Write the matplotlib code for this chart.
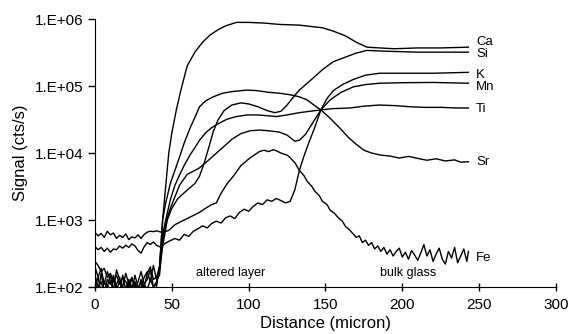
import matplotlib
matplotlib.use("Agg")
import matplotlib.pyplot as plt
import numpy as np

plt.rcParams['font.family'] = ['Liberation Sans', 'DejaVu Sans']

# pre-surface region (noisy background), x = 0..40 step 2
x_pre = list(range(0, 42, 2))

ca_x = x_pre + [42, 44, 46, 48, 50, 53, 56, 60, 65, 70, 75, 80, 85, 92, 100, 110, 120, 133, 148, 155, 163, 170,
                177, 185, 195, 210, 225, 243]
ca_y = [1.2e2, 0.8e2, 1.6e2, 0.9e2, 1.1e2, 0.7e2, 1.4e2, 1.0e2, 0.8e2, 1.5e2, 0.9e2, 1.2e2, 0.7e2, 1.1e2,
        0.9e2, 1.3e2, 0.8e2, 1.0e2, 0.9e2, 0.8e2, 1.0e2,
        2.0e2, 1.0e3, 3.2e3, 1.0e4, 2.0e4, 4.5e4, 8.9e4, 2.0e5, 3.2e5, 4.5e5, 5.8e5, 6.9e5, 7.9e5, 8.9e5, 8.9e5,
        8.7e5, 8.3e5, 8.1e5, 7.4e5, 6.6e5, 5.6e5, 4.5e5, 3.8e5, 3.7e5, 3.6e5, 3.7e5, 3.7e5, 3.8e5]

si_x = x_pre + [42, 44, 47, 50, 54, 60, 65, 68, 71, 74, 77, 80, 84, 89, 95, 100, 106, 112, 117, 121, 125, 129,
                133, 140, 148, 155, 163, 170, 177, 190, 210, 230, 243]
si_y = [2.0e2, 1.4e2, 1.9e2, 1.1e2, 1.7e2, 1.2e2, 0.9e2, 1.8e2, 1.3e2, 1.0e2, 1.6e2, 1.1e2, 1.4e2, 0.9e2,
        1.2e2, 1.7e2, 1.1e2, 0.9e2, 1.3e2, 1.0e2, 1.2e2,
        1.8e2, 4.0e2, 1.0e3, 1.5e3, 2.1e3, 2.8e3, 3.5e3, 4.5e3, 7.0e3, 1.2e4, 2.1e4, 3.1e4, 4.3e4, 5.2e4, 5.6e4,
        5.4e4, 4.9e4, 4.3e4, 4.0e4, 4.2e4, 5.2e4, 6.8e4, 8.7e4, 1.2e5, 1.75e5, 2.3e5, 2.7e5, 3.1e5, 3.4e5,
        3.3e5, 3.2e5, 3.2e5, 3.2e5]

k_x = x_pre + [43, 45, 48, 52, 55, 58, 61, 64, 67, 70, 73, 76, 79, 82, 85, 88, 91, 94, 97, 100, 103, 106, 109,
               112, 115, 118, 121, 124, 127, 130, 133, 136, 139, 143, 147, 151, 155, 161, 168, 176, 185, 200,
               220, 243]
k_y = [4.0e2, 3.6e2, 3.9e2, 3.4e2, 3.8e2, 3.3e2, 3.7e2, 3.6e2, 4.1e2, 3.8e2, 4.2e2, 3.9e2, 4.4e2, 4.1e2,
       3.5e2, 3.2e2, 4.0e2, 4.6e2, 4.3e2, 4.7e2, 4.2e2,
       3.9e2, 4.4e2, 4.8e2, 5.3e2, 5.0e2, 6.1e2, 5.7e2, 6.8e2, 7.4e2, 8.2e2, 7.6e2, 8.9e2, 9.6e2, 9.0e2,
       1.08e3, 1.15e3, 1.05e3, 1.3e3, 1.45e3, 1.35e3, 1.6e3, 1.8e3, 1.7e3, 2.0e3, 1.9e3, 2.1e3, 1.95e3,
       1.8e3, 1.9e3, 2.8e3, 5.5e3, 9.0e3, 1.4e4, 2.4e4, 4.4e4, 6.5e4, 8.5e4, 1.05e5, 1.25e5,
       1.45e5, 1.55e5, 1.55e5, 1.55e5, 1.6e5]

mn_x = x_pre + [42, 44, 47, 50, 55, 60, 65, 68, 73, 78, 83, 89, 95, 101, 107, 113, 120, 125, 130, 133, 137,
                142, 147, 153, 160, 168, 176, 185, 200, 220, 243]
mn_y = [1.5e2, 1.0e2, 1.2e2, 0.8e2, 1.3e2, 1.1e2, 1.5e2, 0.9e2, 1.2e2, 1.0e2, 0.8e2, 1.3e2, 1.0e2, 1.2e2,
        0.8e2, 1.0e2, 1.4e2, 1.7e2, 1.2e2, 2.1e2, 1.3e2,
        1.5e2, 5.0e2, 1.1e3, 1.7e3, 3.3e3, 4.8e3, 5.5e3, 6.0e3, 7.5e3, 9.5e3, 1.2e4, 1.6e4, 1.95e4, 2.15e4,
        2.2e4, 2.15e4, 2.05e4, 1.85e4, 1.5e4, 1.55e4, 1.9e4, 2.9e4, 4.4e4, 6.2e4, 8.0e4, 9.7e4, 1.05e5,
        1.1e5, 1.12e5, 1.13e5, 1.1e5]

ti_x = x_pre + [42, 44, 46, 49, 52, 55, 58, 62, 65, 68, 72, 76, 81, 86, 92, 99, 106, 112, 118, 125, 133, 140,
                147, 155, 166, 175, 185, 195, 205, 215, 225, 235, 243]
ti_y = [1.0e2, 1.4e2, 0.8e2, 1.2e2, 1.0e2, 1.5e2, 0.9e2, 1.1e2, 1.4e2, 0.8e2, 1.0e2, 1.2e2, 0.9e2, 1.5e2,
        1.0e2, 0.8e2, 1.1e2, 1.3e2, 1.8e2, 1.0e2, 1.1e2,
        2.0e2, 6.0e2, 1.0e3, 2.0e3, 3.3e3, 4.7e3, 6.5e3, 9.5e3, 1.2e4, 1.55e4, 2.0e4, 2.4e4, 2.8e4, 3.2e4,
        3.5e4, 3.7e4, 3.7e4, 3.6e4, 3.5e4, 3.7e4, 4.0e4, 4.2e4, 4.4e4, 4.6e4, 4.7e4, 5.0e4, 5.2e4, 5.1e4,
        4.9e4, 4.8e4, 4.8e4, 4.7e4, 4.7e4]

sr_x = x_pre + [42, 44, 46, 49, 52, 55, 58, 62, 65, 68, 72, 77, 83, 90, 99, 106, 112, 120, 127, 133, 138, 143,
                147, 153, 159, 165, 170, 175, 180, 186, 192, 198, 204, 210, 216, 222, 228, 234, 238, 243]
sr_y = [2.4e2, 2.1e2, 1.7e2, 1.9e2, 1.4e2, 1.6e2, 1.2e2, 1.5e2, 1.1e2, 1.4e2, 1.2e2, 1.0e2, 1.3e2, 1.1e2,
        0.9e2, 1.2e2, 1.0e2, 1.6e2, 2.0e2, 1.3e2, 1.4e2,
        2.0e2, 1.0e3, 1.8e3, 3.5e3, 5.5e3, 8.7e3, 1.4e4, 2.4e4, 3.4e4, 4.9e4, 6.0e4, 6.9e4, 7.8e4, 8.3e4,
        8.7e4, 8.5e4, 8.1e4, 7.8e4, 7.4e4, 6.9e4, 6.2e4, 5.1e4, 4.4e4, 3.3e4, 2.4e4, 1.7e4, 1.35e4, 1.1e4,
        1.0e4, 9.3e3, 9.0e3, 8.4e3, 8.9e3, 8.3e3, 7.8e3, 8.2e3, 7.6e3, 7.9e3, 7.3e3, 7.4e3]

fe_x = x_pre + [44, 48, 52, 56, 60, 65, 68, 72, 76, 79, 82, 86, 90, 95, 101, 107, 110, 113, 116, 118, 121, 123,
                125, 127, 130, 133, 136, 138, 141, 143, 146, 148, 151, 153, 156, 158, 161, 163, 166] + \
       list(range(168, 244, 2)) + [243]
fe_y = [6.5e2, 5.8e2, 6.3e2, 5.5e2, 6.8e2, 6.0e2, 6.4e2, 5.3e2, 5.9e2, 5.5e2, 6.2e2, 5.1e2, 5.6e2, 5.4e2,
        6.0e2, 5.3e2, 6.1e2, 6.6e2, 6.8e2, 6.7e2, 6.9e2,
        6.5e2, 7.0e2, 8.5e2, 9.5e2, 1.05e3, 1.2e3, 1.3e3, 1.5e3, 1.7e3, 1.8e3, 2.5e3, 3.5e3, 4.5e3, 6.5e3,
        8.5e3, 1.05e4, 1.1e4, 1.05e4, 1.12e4, 1.08e4, 1.0e4, 9.6e3, 9.3e3, 8.5e3, 7.2e3, 5.5e3, 4.6e3, 3.8e3,
        3.2e3, 2.7e3, 2.3e3, 1.9e3, 1.7e3, 1.4e3, 1.25e3, 1.1e3, 9.6e2, 8.0e2, 7.0e2,
        6.2e2, 5.5e2, 5.8e2, 4.6e2, 5.0e2, 4.2e2, 4.6e2, 3.7e2, 4.1e2, 3.4e2, 3.9e2, 3.1e2, 3.6e2, 2.9e2,
        3.4e2, 3.8e2, 2.8e2, 3.3e2, 2.6e2, 3.5e2, 3.0e2, 2.5e2, 3.2e2, 4.3e2, 2.9e2, 3.6e2, 2.4e2, 3.1e2,
        3.8e2, 2.6e2, 2.2e2, 3.4e2, 2.7e2, 3.9e2, 2.3e2, 2.9e2, 3.7e2, 2.4e2, 3.4e2]

series = [("Ca", ca_x, ca_y), ("Si", si_x, si_y), ("K", k_x, k_y), ("Mn", mn_x, mn_y),
          ("Ti", ti_x, ti_y), ("Sr", sr_x, sr_y), ("Fe", fe_x, fe_y)]

# where the element names sit at the right end
label_y = {"Ca": 4.6e5, "Si": 3.0e5, "K": 1.45e5, "Mn": 9.7e4, "Ti": 4.6e4, "Sr": 7.4e3, "Fe": 2.7e2}

y_ticks = [1e2, 1e3, 1e4, 1e5, 1e6]
y_tick_labels = ["1.E+02", "1.E+03", "1.E+04", "1.E+05", "1.E+06"]
x_ticks = [0, 50, 100, 150, 200, 250, 300]

fig = plt.figure(figsize=(5.71, 3.34), dpi=100)
ax = fig.add_axes([0.1664, 0.1407, 0.8073, 0.8024])

for name, xs, ys in series:
    ax.plot(xs, ys, color="black", lw=1.0)
    ax.text(248, label_y[name], name, fontsize=9.5, va="center", ha="left")

ax.text(88, 1.62e2, "altered layer", fontsize=9, ha="center", va="center")
ax.text(204, 1.62e2, "bulk glass", fontsize=9, ha="center", va="center")

ax.set_yscale("log")
ax.set_ylim(1e2, 1e6)
ax.set_xlim(0, 300)
ax.set_yticks(y_ticks)
ax.set_yticklabels(y_tick_labels)
ax.minorticks_off()
ax.set_xticks(x_ticks)
ax.tick_params(axis="x", direction="inout", length=6, labelsize=11, width=1, pad=5)
ax.tick_params(axis="y", direction="out", length=5, labelsize=11, width=1)
ax.spines["top"].set_visible(False)
ax.spines["right"].set_visible(False)
ax.set_xlabel("Distance (micron)", fontsize=12, labelpad=3)
ax.set_ylabel("Signal (cts/s)", fontsize=12, labelpad=5)

fig.savefig("out.png", dpi=100)
